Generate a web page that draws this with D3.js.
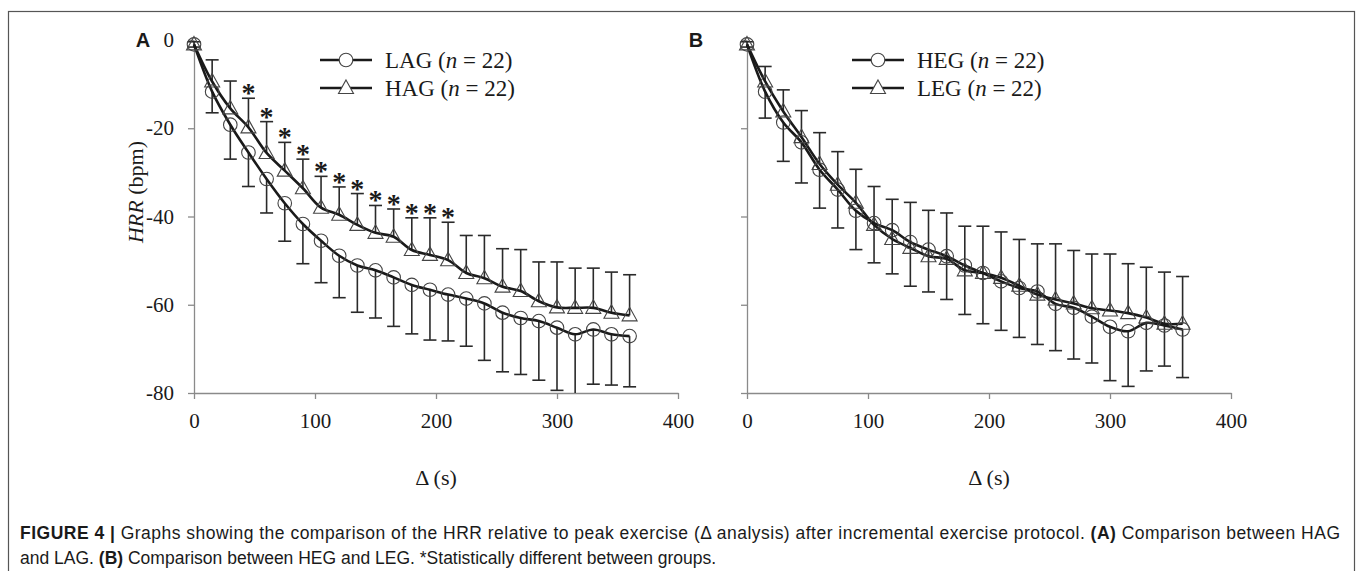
<!DOCTYPE html>
<html>
<head>
<meta charset="utf-8">
<script src="https://cdn.jsdelivr.net/npm/d3@7/dist/d3.min.js"></script>
<style>
  body { margin: 0; background: #fff; }
  text { fill: #1a1a1a; }
</style>
</head>
<body>
<svg id="chart" width="1357" height="571"></svg>
<script>
// recovery time after peak exercise (s)
const times = [0, 15, 30, 45, 60, 75, 90, 105, 120, 135, 150, 165, 180,
               195, 210, 225, 240, 255, 270, 285, 300, 315, 330, 345, 360];

// panel A
const lagMean = [-1, -11.7, -19.2, -25.5, -31.5, -37, -41.7, -45.5, -48.9, -51.1, -52.2, -53.8, -55.5,
                 -56.6, -57.7, -58.6, -59.7, -61.8, -63, -63.7, -65.2, -66.7, -65.6, -66.7, -67.1];
const lagSd   = [0.6, 4.8, 7.8, 7.7, 7.7, 8.6, 9.0, 9.5, 9.5, 10.6, 10.8, 11.1, 11.1,
                 11.4, 10.5, 10.8, 12.9, 13.4, 12.8, 13.4, 14.2, 16.3, 12.4, 11.5, 11.5];
const hagMean = [-1, -9.4, -15.5, -19.8, -25.6, -29.6, -33.6, -38, -39.6, -41.9, -43.7, -44.6, -47.6,
                 -48.7, -49.9, -52.8, -54, -55.9, -56.9, -59.2, -60.6, -60.7, -60.7, -61.8, -62.4];
const hagSd   = [0.6, 4.9, 6.2, 6.6, 7.1, 6.4, 6.6, 7.1, 6.3, 7.1, 6.2, 6.3, 7.3,
                 8.4, 8.6, 8.5, 9.7, 8.6, 9.4, 8.9, 10.3, 9.0, 9.0, 9.2, 9.2];
const starTimes = [45, 60, 75, 90, 105, 120, 135, 150, 165, 180, 195, 210];

// panel B
const hegMean = [-1, -11.7, -18.7, -23.2, -29.4, -33.9, -38.7, -41.5, -43.1, -45.8, -47.5, -49, -51.1,
                 -52.8, -54.7, -56.2, -57, -59.8, -60.7, -62.7, -65, -66, -64.1, -64.7, -65.6];
const hegSd   = [0.6, 6, 8.8, 9.2, 8.7, 8.7, 8.8, 9, 9.9, 10, 9.6, 9.8, 11.1,
                 11.5, 11.1, 11.2, 12, 10.6, 11.6, 10.5, 12.2, 12.5, 10.9, 9.2, 10.9];
const legMean = [-1, -9.4, -16.2, -22, -28.1, -32.8, -36.9, -41.9, -45.1, -47.1, -49, -49.6, -52.2,
                 -52.8, -53.9, -55.7, -57.7, -58.8, -59.7, -60.8, -61.3, -61.9, -62.9, -64.3, -64.3];
const legSd   = [0.6, 3.4, 4.9, 6, 7.1, 7.5, 7.6, 8.7, 9, 10.3, 10.4, 10.4, 10,
                 10.6, 10.4, 10.5, 11.5, 12.6, 12, 12.3, 12.8, 11.2, 11.4, 11.7, 10.7];

const xTicks = [0, 100, 200, 300, 400];
const yTicks = [0, -20, -40, -60, -80];

const serif = "'Liberation Serif', 'Times New Roman', serif";
const sans = "'Liberation Sans', Arial, sans-serif";

const svg = d3.select("#chart");

// frame around the figure
svg.append("rect")
    .attr("x", 8.5).attr("y", 11.5)
    .attr("width", 1346).attr("height", 620)
    .attr("fill", "none").attr("stroke", "#555").attr("stroke-width", 1.2);

const tri = "M0,-8L7.5,5.5L-7.5,5.5Z";

function panel(cfg) {
  const x = d3.scaleLinear().domain([0, 400]).range([cfg.left, cfg.left + 484]);
  const y = d3.scaleLinear().domain([-80, 0]).range([393, 40]);
  const g = svg.append("g");

  const clipId = "clip" + cfg.letter;
  svg.append("clipPath").attr("id", clipId)
    .append("rect").attr("x", cfg.left - 20).attr("y", 0)
    .attr("width", 540).attr("height", 393);

  // axes (plain hyphen for negatives, as in the figure)
  const ya = g.append("g")
      .attr("transform", `translate(${cfg.left},0)`)
      .call(d3.axisLeft(y).tickValues(yTicks).tickSize(6).tickSizeOuter(0).tickPadding(14)
        .tickFormat(d => cfg.yLabels ? String(d) : ""));
  const xa = g.append("g")
      .attr("transform", "translate(0,393)")
      .call(d3.axisBottom(x).tickValues(xTicks).tickSize(6).tickSizeOuter(0).tickPadding(14)
        .tickFormat(d => String(d)));
  [ya, xa].forEach(a => {
    a.selectAll("path, line").attr("stroke", "#8a8a8a").attr("stroke-width", 1.3);
    a.selectAll("text").attr("font-family", serif).attr("font-size", 21).attr("fill", "#1a1a1a");
  });

  const plot = g.append("g").attr("clip-path", `url(#${clipId})`);

  // error bars: first group downward, second group upward
  const bars = (mean, sd, dir) => {
    const eb = plot.append("g").attr("stroke", "#2a2a2a").attr("stroke-width", 1.6);
    times.forEach((t, i) => {
      const y1 = y(mean[i]), y2 = y(mean[i] + dir * sd[i]);
      eb.append("line").attr("x1", x(t)).attr("x2", x(t)).attr("y1", y1).attr("y2", y2);
      eb.append("line").attr("x1", x(t) - 6.5).attr("x2", x(t) + 6.5).attr("y1", y2).attr("y2", y2);
    });
  };
  bars(cfg.a.mean, cfg.a.sd, -1);
  bars(cfg.b.mean, cfg.b.sd, 1);

  const line = d3.line().x((d, i) => x(times[i])).y(d => y(d)).curve(d3.curveCatmullRom.alpha(0.5));
  [cfg.a, cfg.b].forEach(s => {
    plot.append("path").datum(s.mean).attr("d", line)
      .attr("fill", "none").attr("stroke", "#1a1a1a").attr("stroke-width", 2.6);
  });

  // markers
  plot.append("g").selectAll("circle").data(cfg.a.mean).join("circle")
      .attr("cx", (d, i) => x(times[i])).attr("cy", d => y(d)).attr("r", 6.8)
      .attr("fill", "none").attr("stroke", "#444").attr("stroke-width", 1.1);
  plot.append("g").selectAll("path").data(cfg.b.mean).join("path")
      .attr("transform", (d, i) => `translate(${x(times[i])},${y(d)})`)
      .attr("d", tri)
      .attr("fill", "none").attr("stroke", "#444").attr("stroke-width", 1.1);

  // significance stars
  if (cfg.stars) {
    g.append("g").selectAll("text").data(cfg.stars).join("text")
        .attr("x", t => x(t))
        .attr("y", t => { const i = times.indexOf(t); return y(cfg.b.mean[i] + cfg.b.sd[i]) + 4; })
        .attr("text-anchor", "middle")
        .attr("font-family", serif).attr("font-weight", "bold").attr("font-size", 28)
        .text("*");
  }

  // legend
  const lg = g.append("g");
  [[cfg.a, "circle"], [cfg.b, "tri"]].forEach(([s, m], k) => {
    const ly = cfg.legendY + k * 28;
    lg.append("line").attr("x1", cfg.legendX).attr("x2", cfg.legendX + 52)
      .attr("y1", ly).attr("y2", ly).attr("stroke", "#1a1a1a").attr("stroke-width", 2.6);
    if (m === "circle") {
      lg.append("circle").attr("cx", cfg.legendX + 26).attr("cy", ly).attr("r", 6.8)
        .attr("fill", "#fff").attr("stroke", "#444").attr("stroke-width", 1.1);
    } else {
      lg.append("path").attr("transform", `translate(${cfg.legendX + 26},${ly})`).attr("d", tri)
        .attr("fill", "#fff").attr("stroke", "#444").attr("stroke-width", 1.1);
    }
    const t = lg.append("text").attr("x", cfg.legendX + 65).attr("y", ly + 8)
      .attr("font-family", serif).attr("font-size", 23);
    t.append("tspan").text(s.name + " (");
    t.append("tspan").attr("font-style", "italic").text("n");
    t.append("tspan").text(" = 22)");
  });

  // panel letter and axis titles
  g.append("text").attr("x", cfg.left - 51).attr("y", 47).attr("text-anchor", "middle")
    .attr("font-family", sans).attr("font-weight", "bold").attr("font-size", 20).text(cfg.letter);
  g.append("text").attr("x", cfg.left + 242).attr("y", 485).attr("text-anchor", "middle")
    .attr("font-family", serif).attr("font-size", 22).text("\u0394 (s)");
  if (cfg.yTitle) {
    const yt = g.append("text").attr("transform", `translate(${cfg.left - 51},192) rotate(-90)`)
      .attr("text-anchor", "middle").attr("font-family", serif).attr("font-size", 22);
    yt.append("tspan").attr("font-style", "italic").text("HRR");
    yt.append("tspan").text(" (bpm)");
  }
}

panel({
  letter: "A", left: 194, yLabels: true, yTitle: true, stars: starTimes,
  legendX: 320, legendY: 60,
  a: { name: "LAG", mean: lagMean, sd: lagSd },
  b: { name: "HAG", mean: hagMean, sd: hagSd }
});
panel({
  letter: "B", left: 747, yLabels: false, yTitle: false, stars: null,
  legendX: 852, legendY: 60,
  a: { name: "HEG", mean: hegMean, sd: hegSd },
  b: { name: "LEG", mean: legMean, sd: legSd }
});

// caption
const cap = svg.append("g").attr("font-family", sans).attr("font-size", 17.5);
const c1 = cap.append("text").attr("x", 20).attr("y", 539)
  .attr("textLength", 1320).attr("lengthAdjust", "spacing");
c1.append("tspan").attr("font-weight", "bold").text("FIGURE 4 | ");
c1.append("tspan").text("Graphs showing the comparison of the HRR relative to peak exercise (\u0394 analysis) after incremental exercise protocol. ");
c1.append("tspan").attr("font-weight", "bold").text("(A)");
c1.append("tspan").text(" Comparison between HAG");
const c2 = cap.append("text").attr("x", 20).attr("y", 564);
c2.append("tspan").text("and LAG. ");
c2.append("tspan").attr("font-weight", "bold").text("(B)");
c2.append("tspan").text(" Comparison between HEG and LEG. *Statistically different between groups.");
</script>
</body>
</html>
